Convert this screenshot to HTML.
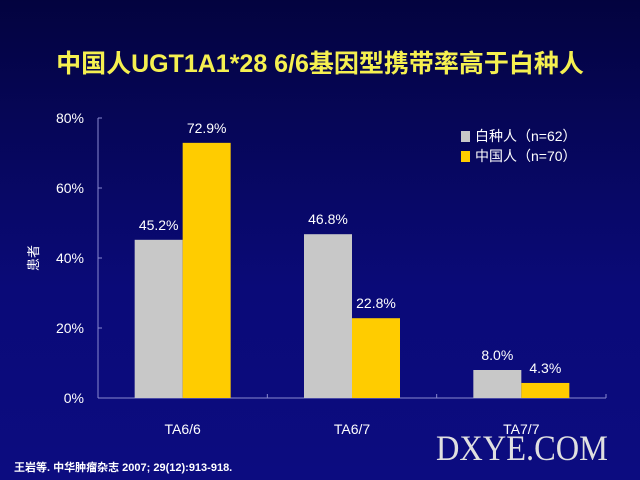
<!DOCTYPE html>
<html><head><meta charset="utf-8"><style>
html,body{margin:0;padding:0}
body{width:640px;height:480px;overflow:hidden;background:linear-gradient(#03033f,#0a0a78 60%,#0c0c80);font-family:"Liberation Sans","Noto Sans CJK SC",sans-serif;position:relative}
#title{position:absolute;left:0;width:640px;top:44px;text-align:center;color:#f5f050;font-size:25px;font-weight:bold}
#ref{position:absolute;left:14px;top:459px;color:#fff;font-size:11px;font-weight:bold}
#wm{position:absolute;left:436px;top:428px;color:#e0e0e0;font-family:"Liberation Serif",serif;font-size:36px;line-height:40px;transform:scaleX(0.9);transform-origin:left top;white-space:nowrap}
</style></head><body>
<div id="title">中国人UGT1A1*28 6/6基因型携带率高于白种人</div>
<svg id="chart" width="640" height="480" style="position:absolute;left:0;top:0"></svg>
<div id="ref">王岩等. 中华肿瘤杂志 2007; 29(12):913-918.</div>
<div id="wm">DXYE.COM</div>
<script>
const categories=["TA6/6","TA6/7","TA7/7"];
const caucasian=[45.2,46.8,8.0];
const chinese=[72.9,22.8,4.3];
const ticks=[0,20,40,60,80];
const seriesNames=["白种人（n=62）","中国人（n=70）"];
const colors=["#c8c8c8","#ffcc00"];
const NS="http://www.w3.org/2000/svg";
const svg=document.getElementById('chart');
const x0=98,x1=606,y0=398,yTop=118,maxV=80;
const y=v=>y0-(v/maxV)*(y0-yTop);
const band=(x1-x0)/categories.length;
const cx=i=>x0+band*(i+0.5);
const bw=48;
function mk(t,a){const e=document.createElementNS(NS,t);for(const k in a)e.setAttribute(k,a[k]);svg.appendChild(e);return e;}
let ax=mk('line',{x1:x0,y1:yTop,x2:x0,y2:y0,stroke:'#8a8ad0','stroke-width':1});


let bx=mk('line',{x1:x0,y1:y0,x2:x1,y2:y0,stroke:'#8a8ad0','stroke-width':1});


ticks.forEach(t=>{
 let l=mk('line',{x1:x0,y1:y(t),x2:x0+4,y2:y(t),stroke:'#8a8ad0'});
 
 
 let tx=mk('text',{x:x0-14,y:y(t)+5,'text-anchor':'end',fill:'#fff','font-size':14});
 tx.textContent=t+'%';
 
 
});
for(let i=1;i<=categories.length;i++){
 let l=mk('line',{x1:x0+band*i,y1:y0,x2:x0+band*i,y2:y0-4,stroke:'#8a8ad0'});
 
 
}
let yt=mk('text',{x:38,y:258,'text-anchor':'middle',fill:'#fff','font-size':13,transform:'rotate(-90 38 258)'});
yt.textContent='患者';


categories.forEach((c,i)=>{
 [caucasian,chinese].forEach((s,j)=>{
  const bx0=cx(i)-bw+j*bw;
  let r=mk('rect',{x:bx0,y:y(s[i]),width:bw,height:y0-y(s[i]),fill:colors[j]});
  
  
  let v=mk('text',{x:bx0+bw/2,y:y(s[i])-10,'text-anchor':'middle',fill:'#fff','font-size':14});
  v.textContent=s[i].toFixed(1)+'%';
  
  
 });
 let t=mk('text',{x:cx(i),y:434,'text-anchor':'middle',fill:'#fff','font-size':14});
 t.textContent=c;
 
 
});
seriesNames.forEach((n,j)=>{
 const ly=141+j*20;
 let r=mk('rect',{x:461,y:ly-10,width:9,height:11,fill:colors[j]});
 
 
 let t=mk('text',{x:475,y:ly,fill:'#fff','font-size':14});
 t.textContent=n;
 
 
});
</script>
</body></html>
